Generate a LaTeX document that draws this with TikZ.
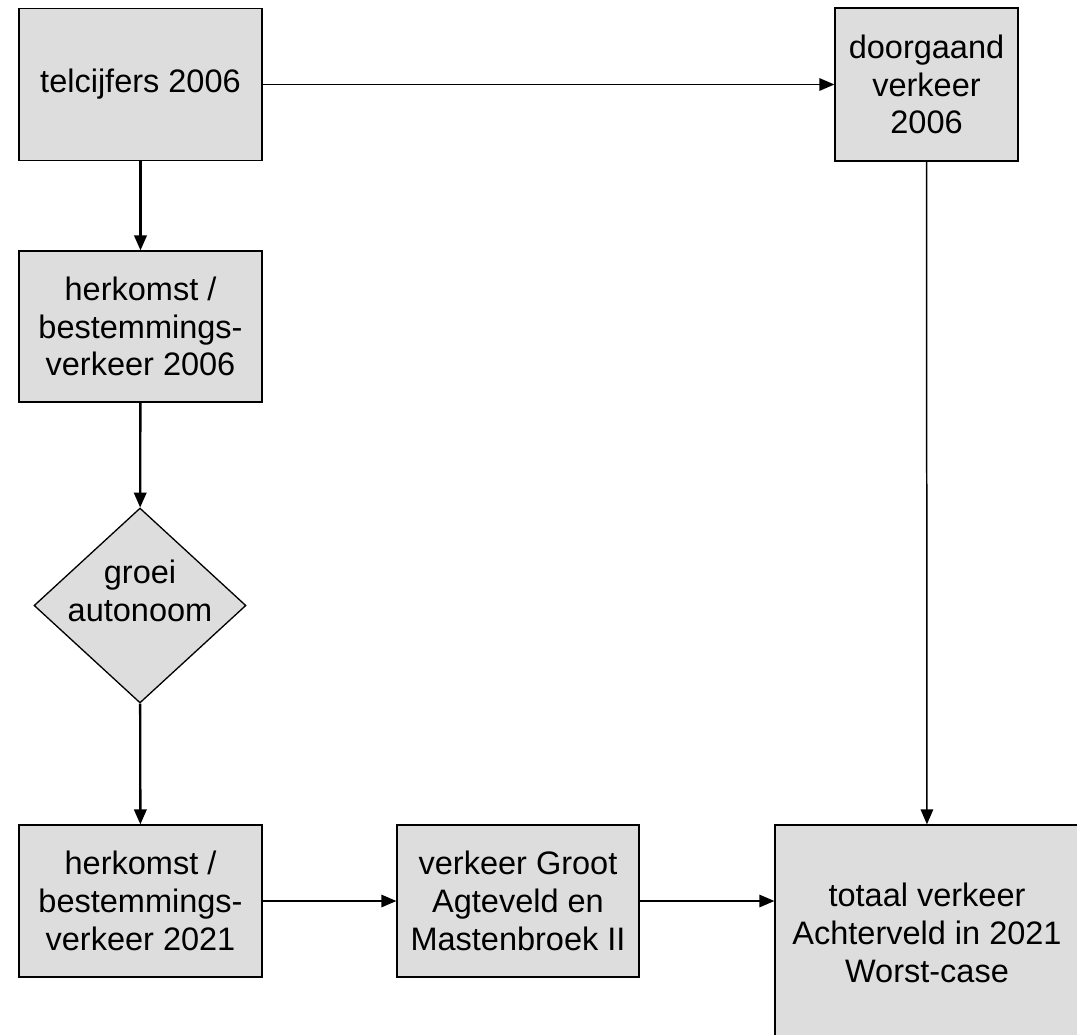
\documentclass[tikz,border=0pt]{standalone}
\usepackage{fontspec}
\setmainfont{Liberation Sans}
\usepackage{tikz}
\usetikzlibrary{shapes.geometric}
\usetikzlibrary{arrows.meta}
\definecolor{vulling}{RGB}{221,221,221}

\begin{document}
\begin{tikzpicture}[x=0.02cm, y=-0.02cm,
	tekst/.style={align=center, inner sep=0pt, font=\fontsize{18.5}{21.5}\selectfont},
	blok/.style={tekst, draw, line width=0.75pt, fill=vulling},
	ruit/.style={blok, diamond, minimum width=4.24cm, minimum height=3.9cm},
	pijl/.style={line width=0.85pt, -{Triangle[length=0.3cm, width=0.25cm]}},
	dikpijl/.style={pijl, line width=1.35pt}]

	\useasboundingbox (0,0) rectangle (1077,1034);

	\node[blok, minimum width=4.86cm, minimum height=3.04cm] (tel) at (140.5,84.5) {telcijfers 2006};
	\node[blok, minimum width=3.66cm, minimum height=3.06cm] (door) at (926.5,84.5) {doorgaand\\verkeer\\2006};
	\node[blok, minimum width=4.86cm, minimum height=3.02cm] (herk06) at (140.5,326.5) {herkomst /\\bestemmings-\\verkeer 2006};
	\node[ruit] (groei) at (140,605.5) {};
	\node[tekst] (groeitekst) at (140,591) {groei\\autonoom};
	\node[blok, minimum width=4.86cm, minimum height=3.04cm] (herk21) at (140.5,901) {herkomst /\\bestemmings-\\verkeer 2021};
	\node[blok, minimum width=4.84cm, minimum height=3.04cm] (groot) at (518,901) {verkeer Groot\\Agteveld en\\Mastenbroek II};
	\node[blok, minimum width=6.08cm, minimum height=4.32cm] (totaal) at (927,933) {totaal verkeer\\Achterveld in 2021\\Worst-case};

	\draw[pijl] (tel) -- (door);
	\draw[dikpijl] (tel) -- (herk06);
	\draw[dikpijl] (herk06) -- (groei);
	\draw[dikpijl] (groei) -- (herk21);
	\draw[pijl] (herk21) -- (groot);
	\draw[pijl] (groot.east) -- (groot.east -| totaal.west);
	\draw[pijl] (door) -- (totaal);

\end{tikzpicture}
\end{document}
